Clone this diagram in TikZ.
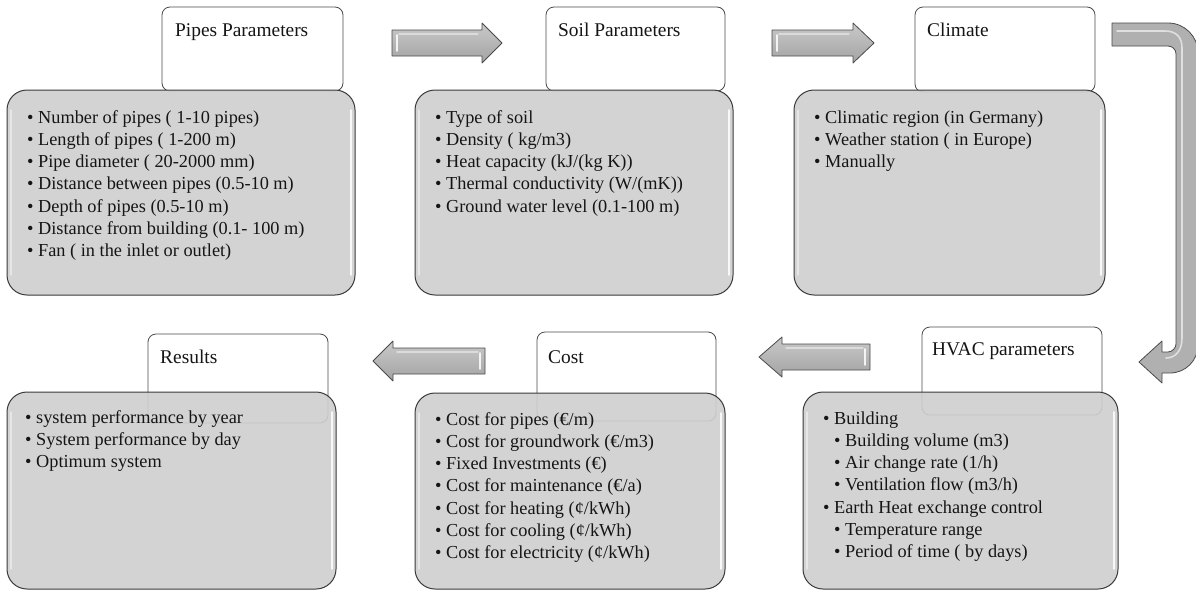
\documentclass[tikz,border=0pt]{standalone}
\usepackage{fontspec}
\setmainfont{Liberation Serif}
\definecolor{ink}{HTML}{151515}
\definecolor{boxline}{HTML}{4A4A4A}
\definecolor{infoline}{HTML}{3A3A3A}
\definecolor{infogray}{HTML}{CFCFCF}
\definecolor{arrowline}{HTML}{4A4A4A}
\definecolor{arrowtop}{HTML}{C9C9C9}
\definecolor{arrowbottom}{HTML}{A3A3A3}
\definecolor{bentfill}{HTML}{B0B0B0}
\begin{document}
\begin{tikzpicture}[x=1pt,y=-1pt,
  titlebox/.style={draw=boxline, line width=0.8pt, fill=white, rounded corners=8pt,
    inner sep=0pt, outer sep=0pt, anchor=north west},
  infobox/.style={draw=infoline, line width=1pt, fill=infogray, fill opacity=0.9,
    rounded corners=20pt, inner sep=0pt, outer sep=0pt, anchor=north west},
  titletext/.style={anchor=base west, inner sep=0pt, text=ink,
    font=\fontsize{19.4}{23}\selectfont},
  bodytext/.style={anchor=base west, inner sep=0pt, text=ink,
    font=\fontsize{18.3}{22.3}\selectfont},
  blockarrow/.style={draw=arrowline, line width=0.8pt, top color=arrowtop,
    bottom color=arrowbottom, line join=round},
  shine/.style={draw=white, line width=1.6pt, opacity=0.85, line cap=round},
  softshine/.style={draw=white, line width=1.2pt, opacity=0.45, line cap=round},
]
\useasboundingbox[fill=white] (0,0) rectangle (1196,592);

% ---------- panel: pipes ----------
\node[titlebox, minimum width=181pt, minimum height=84pt] (pipestitle) at (162,7) {};
\node[infobox, minimum width=348pt, minimum height=205pt] (pipesbox) at (7,90) {};
\node[titletext] (pipeshead) at (175,36) {Pipes Parameters};
\node[bodytext] (pipesbody) at (27,123) {\parbox[t]{320pt}{\raggedright
  • Number of pipes ( 1-10 pipes)\\
  • Length of pipes ( 1-200 m)\\
  • Pipe diameter ( 20-2000 mm)\\
  • Distance between pipes (0.5-10 m)\\
  • Depth of pipes (0.5-10 m)\\
  • Distance from building (0.1- 100 m)\\
  • Fan ( in the inlet or outlet)}};

% ---------- panel: soil ----------
\node[titlebox, minimum width=179pt, minimum height=84pt] (soiltitle) at (546,7) {};
\node[infobox, minimum width=318pt, minimum height=205pt] (soilbox) at (415,90) {};
\node[titletext] (soilhead) at (558,36) {Soil Parameters};
\node[bodytext] (soilbody) at (435,123) {\parbox[t]{290pt}{\raggedright
  • Type of soil\\
  • Density ( kg/m3)\\
  • Heat capacity (kJ/(kg K))\\
  • Thermal conductivity (W/(mK))\\
  • Ground water level (0.1-100 m)}};

% ---------- panel: climate ----------
\node[titlebox, minimum width=180pt, minimum height=85pt] (climtitle) at (915,7) {};
\node[infobox, minimum width=311pt, minimum height=205pt] (climbox) at (794,90) {};
\node[titletext] (climhead) at (927,36) {Climate};
\node[bodytext] (climbody) at (814,123) {\parbox[t]{280pt}{\raggedright
  • Climatic region (in Germany)\\
  • Weather station ( in Europe)\\
  • Manually}};

% ---------- panel: results ----------
\node[titlebox, minimum width=180pt, minimum height=89pt] (restitle) at (148,334) {};
\node[infobox, minimum width=329pt, minimum height=197pt] (resbox) at (7,392) {};
\node[titletext] (reshead) at (160,363) {Results};
\node[bodytext] (resbody) at (25,423) {\parbox[t]{300pt}{\raggedright
  • system performance by year\\
  • System performance by day\\
  • Optimum system}};

% ---------- panel: cost ----------
\node[titlebox, minimum width=179pt, minimum height=89pt] (costtitle) at (537,332) {};
\node[infobox, minimum width=310pt, minimum height=196pt] (costbox) at (415,393) {};
\node[titletext] (costhead) at (548,363) {Cost};
\node[bodytext] (costbody) at (435,425) {\parbox[t]{285pt}{\raggedright
  • Cost for pipes (€/m)\\
  • Cost for groundwork (€/m3)\\
  • Fixed Investments (€)\\
  • Cost for maintenance (€/a)\\
  • Cost for heating (¢/kWh)\\
  • Cost for cooling (¢/kWh)\\
  • Cost for electricity (¢/kWh)}};

% ---------- panel: hvac ----------
\node[titlebox, minimum width=180pt, minimum height=88pt] (hvactitle) at (922,327) {};
\node[infobox, minimum width=315pt, minimum height=197pt] (hvacbox) at (803,392) {};
\node[titletext] (hvachead) at (932,355) {HVAC parameters};
\node[bodytext] (hvacbody) at (823,424) {\parbox[t]{290pt}{\raggedright
  • Building\\
  \hspace*{11pt}• Building volume (m3)\\
  \hspace*{11pt}• Air change rate (1/h)\\
  \hspace*{11pt}• Ventilation flow (m3/h)\\
  • Earth Heat exchange control\\
  \hspace*{11pt}• Temperature range\\
  \hspace*{11pt}• Period of time ( by days)}};

% bevel highlights along the inner edges of the grey panels
\foreach \b in {pipesbox,soilbox,climbox,resbox,costbox,hvacbox}{
  \draw[shine] ([xshift=-4pt,yshift=-20pt]\b.north east) -- ([xshift=-4pt,yshift=20pt]\b.south east);
  \draw[softshine] ([xshift=4pt,yshift=-20pt]\b.north west) -- ([xshift=4pt,yshift=20pt]\b.south west);
}

% ---------- block arrows ----------
% pipes -> soil
\path[blockarrow] (392,30) -- (482,30) -- (482,23) -- (502,43) -- (482,63) -- (482,56) -- (392,56) -- cycle;
\draw[shine] (397,35) -- (397,51);
\draw[softshine] (399,34) -- (478,34);
% soil -> climate
\path[blockarrow] (772,30) -- (853,30) -- (853,23) -- (874,43) -- (853,63) -- (853,56) -- (772,56) -- cycle;
\draw[shine] (777,35) -- (777,51);
\draw[softshine] (779,34) -- (849,34);
% climate -> hvac (bent)
\path[draw=arrowline, line width=0.8pt, fill=bentfill, line join=round]
  (1112,23) -- (1168,23) .. controls (1184.6,23) and (1198,36.4) .. (1198,53)
  -- (1198,345) .. controls (1198,360.5) and (1185.5,373) .. (1170,373)
  -- (1162,373) -- (1162,383) -- (1139,362) -- (1162,341) -- (1162,352)
  -- (1168,352) .. controls (1172.4,352) and (1176,347.6) .. (1176,344)
  -- (1176,54) .. controls (1176,49.6) and (1172.4,46) .. (1168,46)
  -- (1112,46) -- cycle;
\draw[shine, opacity=0.6] (1117,31) -- (1165,31) .. controls (1176,31) and (1182,37) .. (1182,48)
  -- (1182,338) .. controls (1182,350) and (1176,358) .. (1166,358);
% hvac -> cost
\path[blockarrow] (870,344) -- (782,344) -- (782,337) -- (759,357) -- (782,377) -- (782,370) -- (870,370) -- cycle;
\draw[shine] (865,349) -- (865,365);
\draw[softshine] (863,348) -- (786,348);
% cost -> results
\path[blockarrow] (485,348) -- (393,348) -- (393,341) -- (373,361) -- (393,381) -- (393,374) -- (485,374) -- cycle;
\draw[shine] (480,353) -- (480,369);
\draw[softshine] (478,352) -- (397,352);
\end{tikzpicture}
\end{document}
